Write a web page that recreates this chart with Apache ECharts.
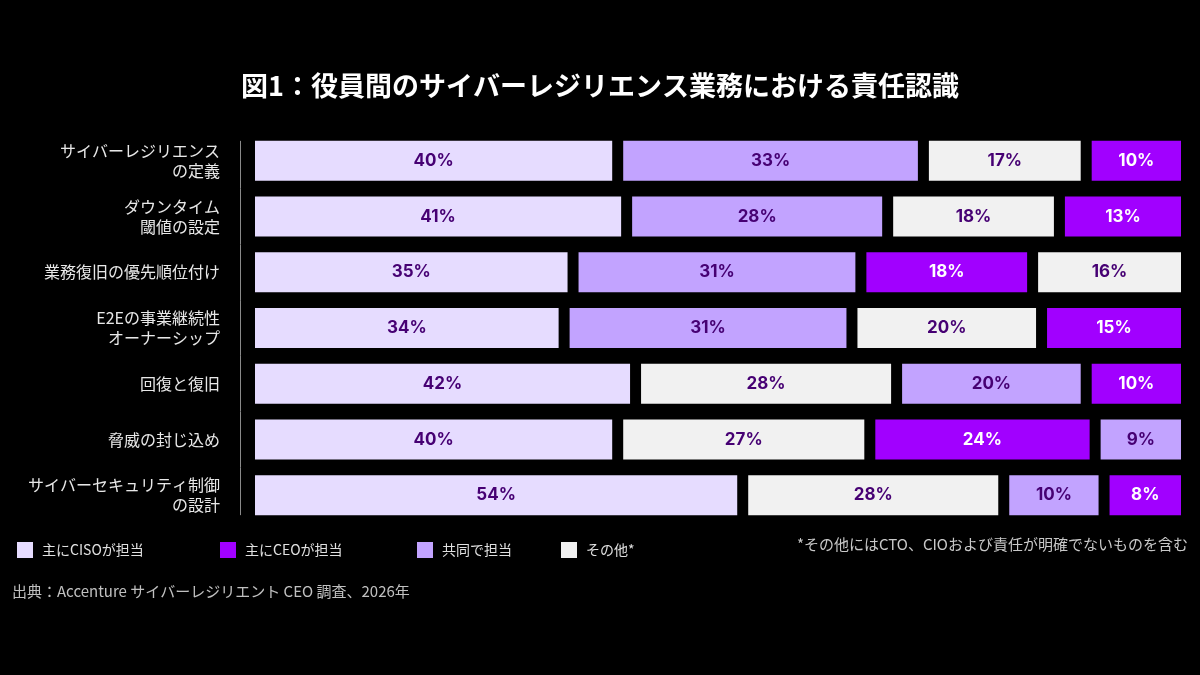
<!DOCTYPE html>
<html><head><meta charset="utf-8">
<script src="https://cdn.jsdelivr.net/npm/echarts@6/dist/echarts.min.js"></script>
<style>html,body{margin:0;padding:0;background:#000}#c{width:1200px;height:675px}</style>
</head><body><div id="c"></div>
<script>
const categories = ['サイバーレジリエンス\nの定義','ダウンタイム\n閾値の設定','業務復旧の優先順位付け','E2Eの事業継続性\nオーナーシップ','回復と復旧','脅威の封じ込め','サイバーセキュリティ制御\nの設計'];
const seriesNames = ['主にCISOが担当','主にCEOが担当','共同で担当','その他*'];
const ciso  = [40,41,35,34,42,40,54];
const ceo   = [10,13,18,15,10,24,8];
const joint = [33,28,31,31,20,9,10];
const other = [17,18,16,20,28,27,28];
const allValues = [ciso, ceo, joint, other];
const colors = ['#e6dcff','#a100ff','#c2a3ff','#f1f1f1'];
const labelColors = ['#460073','#ffffff','#460073','#460073'];
const GAP = 11;
const BAR_H = 40;
const AXIS_OFFSET = 15;

function makeRender(si){
  return function(params, api){
    const row = api.value(0);
    const vals = allValues.map(a => a[row]);
    const order = vals.map((v,i)=>i).sort((a,b)=>vals[b]-vals[a]);
    const p0 = api.coord([0,row]);
    const p1 = api.coord([100,row]);
    const band = api.size([0,1])[1];
    const unit = (p1[0]-p0[0]-GAP*3)/100;
    const h = BAR_H;
    const children = [];
    if (si === 0){
      const last = categories.length-1;
      const y1 = row === 0 ? p0[1]-h/2 : p0[1]-band/2;
      const y2 = row === last ? p0[1]+h/2 : p0[1]+band/2;
      const ax = Math.round(p0[0]-AXIS_OFFSET)+0.5;
      children.push({type:'line', shape:{x1:ax, y1:y1, x2:ax, y2:y2}, style:{stroke:'#8a8a8a', lineWidth:1}});
    }
    let x = p0[0];
    for (let k=0;k<order.length;k++){
      const idx = order[k];
      const w = vals[idx]*unit;
      if (idx === si){
        children.push({type:'rect', shape:{x:x, y:p0[1]-h/2, width:w, height:h}, style:{fill:colors[si]}});
        children.push({type:'text', style:{x:x+w/2, y:p0[1], text:vals[idx]+'%', fill:labelColors[si], font:'bold 17px Inter, "Noto Sans", sans-serif', align:'center', verticalAlign:'middle'}});
        break;
      }
      x += w + GAP;
    }
    return {type:'group', children:children};
  };
}

const legendLefts = [12, 215, 412, 556];
const chart = echarts.init(document.getElementById('c'));
chart.setOption({
  backgroundColor:'#000',
  animation:false,
  title:{text:'図1：役員間のサイバーレジリエンス業務における責任認識', left:'center', top:67,
    textStyle:{color:'#fff', fontSize:27, fontWeight:'bold', fontFamily:'"Noto Sans CJK JP"'}},
  grid:{left:255, right:19, top:133, bottom:152},
  xAxis:{type:'value', min:0, max:100, show:false},
  yAxis:{type:'category', data:categories, inverse:true, offset:AXIS_OFFSET,
    axisLine:{show:false},
    axisTick:{show:false},
    axisLabel:{color:'#e8e8e8', fontSize:16, lineHeight:20, margin:20, fontFamily:'"Noto Sans CJK JP"', align:'right'}},
  legend: seriesNames.map((n,i)=>({data:[{name:n, icon:'rect'}], left:legendLefts[i], top:537, itemWidth:16, itemHeight:16, itemGap:0,
    textStyle:{color:'#e0e0e0', fontSize:14, fontFamily:'"Noto Sans CJK JP"', padding:[0,0,0,4]}, selectedMode:false})),
  graphic:[
    {type:'text', right:12, top:537, style:{text:'*その他にはCTO、CIOおよび責任が明確でないものを含む', fill:'#c8c8c8', font:'15px "Noto Sans CJK JP"'}},
    {type:'text', left:12, top:584, style:{text:'出典：Accenture サイバーレジリエント CEO 調査、2026年', fill:'#c0c0c0', font:'15px "Noto Sans CJK JP"'}}
  ],
  series: seriesNames.map((n,i)=>({
    name:n, type:'custom', coordinateSystem:'cartesian2d',
    itemStyle:{color:colors[i]},
    renderItem: makeRender(i),
    encode:{y:0},
    data: categories.map((c,j)=>[j])
  }))
});
</script></body></html>
